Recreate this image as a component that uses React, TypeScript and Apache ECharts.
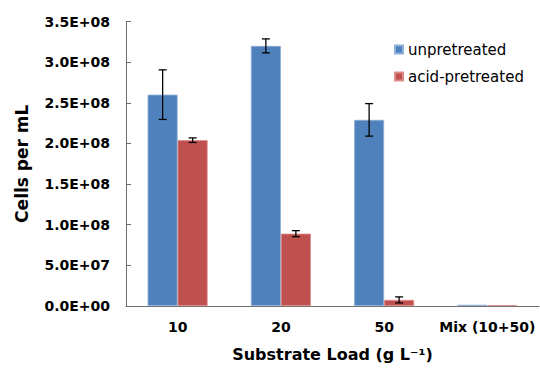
import React, { useEffect, useRef } from "react";
import * as echarts from "echarts";

const categories = ["10", "20", "50", "Mix (10+50)"];
const unpretreated = [2.6e8, 3.2e8, 2.29e8, 1.5e6];
const unpretreatedErr = [3.05e7, 8.6e6, 2.0e7, 0];
const acidPretreated = [2.04e8, 8.9e7, 7.5e6, 1.0e6];
const acidPretreatedErr = [2.8e6, 3.7e6, 3.7e6, 0];
const yTicks = { min: 0, max: 3.5e8, interval: 5e7 };

const FONT = "DejaVu Sans";

function fmtSci(v: number): string {
  if (v === 0) return "0.0E+00";
  const e = Math.floor(Math.log10(v) + 1e-9);
  const m = v / Math.pow(10, e);
  return `${m.toFixed(1)}E+${String(e).padStart(2, "0")}`;
}

function errSeries(vals: number[], errs: number[], offset: number) {
  return {
    type: "custom",
    silent: true,
    z: 10,
    data: vals.map((v, i) => [i, v - errs[i], v + errs[i]]),
    encode: { x: 0, y: [1, 2] },
    renderItem: (params: any, api: any) => {
      const lo = api.coord([api.value(0), api.value(1)]);
      const hi = api.coord([api.value(0), api.value(2)]);
      if (Math.abs(lo[1] - hi[1]) < 0.5) return { type: "group", children: [] };
      const x = lo[0] + offset;
      const st = { stroke: "#000", lineWidth: 1.3 };
      return {
        type: "group",
        children: [
          { type: "line", shape: { x1: x, y1: hi[1], x2: x, y2: lo[1] }, style: st },
          { type: "line", shape: { x1: x - 4, y1: hi[1], x2: x + 4, y2: hi[1] }, style: st },
          { type: "line", shape: { x1: x - 4, y1: lo[1], x2: x + 4, y2: lo[1] }, style: st },
        ],
      };
    },
  };
}

export default function App() {
  const ref = useRef<HTMLDivElement>(null);
  useEffect(() => {
    if (!ref.current) return;
    const chart = echarts.init(ref.current, null, { renderer: "svg" });
    const axisColor = "#6e6e6e";
    chart.setOption({
      animation: false,
      backgroundColor: "#fff",
      grid: { left: 126, right: 1, top: 21.5, bottom: 64 },
      legend: {
        data: ["unpretreated", "acid-pretreated"],
        orient: "vertical",
        left: 389,
        top: 37,
        itemWidth: 8,
        itemHeight: 8,
        itemGap: 12,
        icon: "rect",
        textStyle: { fontFamily: FONT, fontSize: 15, color: "#000" },
      },
      xAxis: {
        type: "category",
        data: categories,
        name: "Substrate Load (g L\u207B\u00B9)",
        nameLocation: "middle",
        nameGap: 40,
        nameTextStyle: { fontFamily: FONT, fontWeight: "bold", fontSize: 16, color: "#000" },
        axisLine: { lineStyle: { color: axisColor, width: 1 } },
        axisTick: { inside: true, length: 5, lineStyle: { color: axisColor } },
        axisLabel: {
          interval: 0,
          hideOverlap: false,
          margin: 14,
          fontFamily: FONT,
          fontWeight: "bold",
          fontSize: 14,
          color: "#000",
        },
      },
      yAxis: {
        type: "value",
        min: yTicks.min,
        max: yTicks.max,
        interval: yTicks.interval,
        name: "Cells per mL",
        nameLocation: "middle",
        nameGap: 96,
        nameTextStyle: { fontFamily: FONT, fontWeight: "bold", fontSize: 17, color: "#000" },
        axisLine: { show: true, lineStyle: { color: axisColor, width: 1 } },
        axisTick: { show: true, inside: true, length: 5, lineStyle: { color: axisColor } },
        splitLine: { show: false },
        axisLabel: {
          margin: 16,
          fontFamily: FONT,
          fontWeight: "bold",
          fontSize: 14,
          color: "#000",
          formatter: (v: number) => fmtSci(v),
        },
      },
      series: [
        {
          name: "unpretreated",
          type: "bar",
          data: unpretreated,
          barWidth: 30,
          barGap: "0%",
          itemStyle: { color: "#4F81BD", borderColor: "#8fb0d8", borderWidth: 0.8 },
        },
        {
          name: "acid-pretreated",
          type: "bar",
          data: acidPretreated,
          barWidth: 30,
          barGap: "0%",
          itemStyle: { color: "#C0504D", borderColor: "#dc8b89", borderWidth: 0.8 },
        },
        errSeries(unpretreated, unpretreatedErr, -15),
        errSeries(acidPretreated, acidPretreatedErr, 15),
      ],
    });
    return () => chart.dispose();
  }, []);
  return (
    <div
      ref={ref}
      style={{ position: "fixed", left: 0, top: 0, width: 540, height: 370, background: "#fff" }}
    />
  );
}
